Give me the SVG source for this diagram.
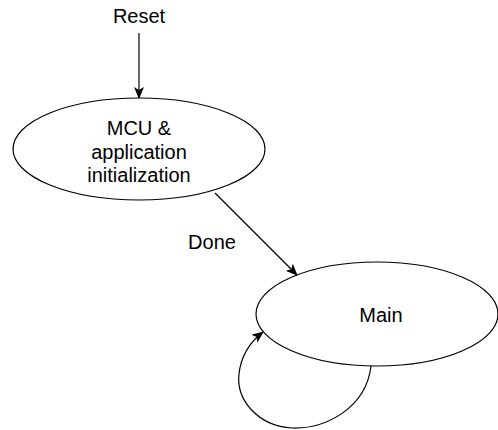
<svg xmlns="http://www.w3.org/2000/svg" width="498" height="430" viewBox="0 0 498 430">
<style>
.n{fill:#fff;stroke:#000;stroke-width:1.2}
.t{font-family:"Liberation Sans",Arial,sans-serif;font-size:20px;fill:#000;text-anchor:middle}
.c{fill:none;stroke:#000;stroke-width:1.2}
</style>
<defs>
<marker id="a" viewBox="0 0 12 10" refX="11" refY="5" markerWidth="12" markerHeight="10" markerUnits="userSpaceOnUse" orient="auto">
<path d="M0,0 L12,5 L0,10 L3,5 Z" fill="#000"/>
</marker>
</defs>
<rect width="498" height="430" fill="#fff"/>
<g id="connectors">
<line class="c" x1="139" y1="33" x2="139" y2="98" marker-end="url(#a)"/>
<line class="c" x1="215" y1="193" x2="297" y2="275" marker-end="url(#a)"/>
<path class="c" d="M371,366 C366,408 326,429 292,428 C258,426 236,400 239,374 C241,356 250,342 263,332" marker-end="url(#a)"/>
</g>
<g id="reset"><text class="t" x="139" y="23">Reset</text></g>
<g id="done"><text class="t" x="212" y="249">Done</text></g>
<g id="init">
<ellipse class="n" cx="139" cy="149" rx="126" ry="51"/>
<text class="t" x="139" y="135">MCU &amp;</text>
<text class="t" x="139" y="159">application</text>
<text class="t" x="139" y="182">initialization</text>
</g>
<g id="main">
<ellipse class="n" cx="377" cy="314" rx="121" ry="52"/>
<text class="t" x="381" y="322">Main</text>
</g>
</svg>
